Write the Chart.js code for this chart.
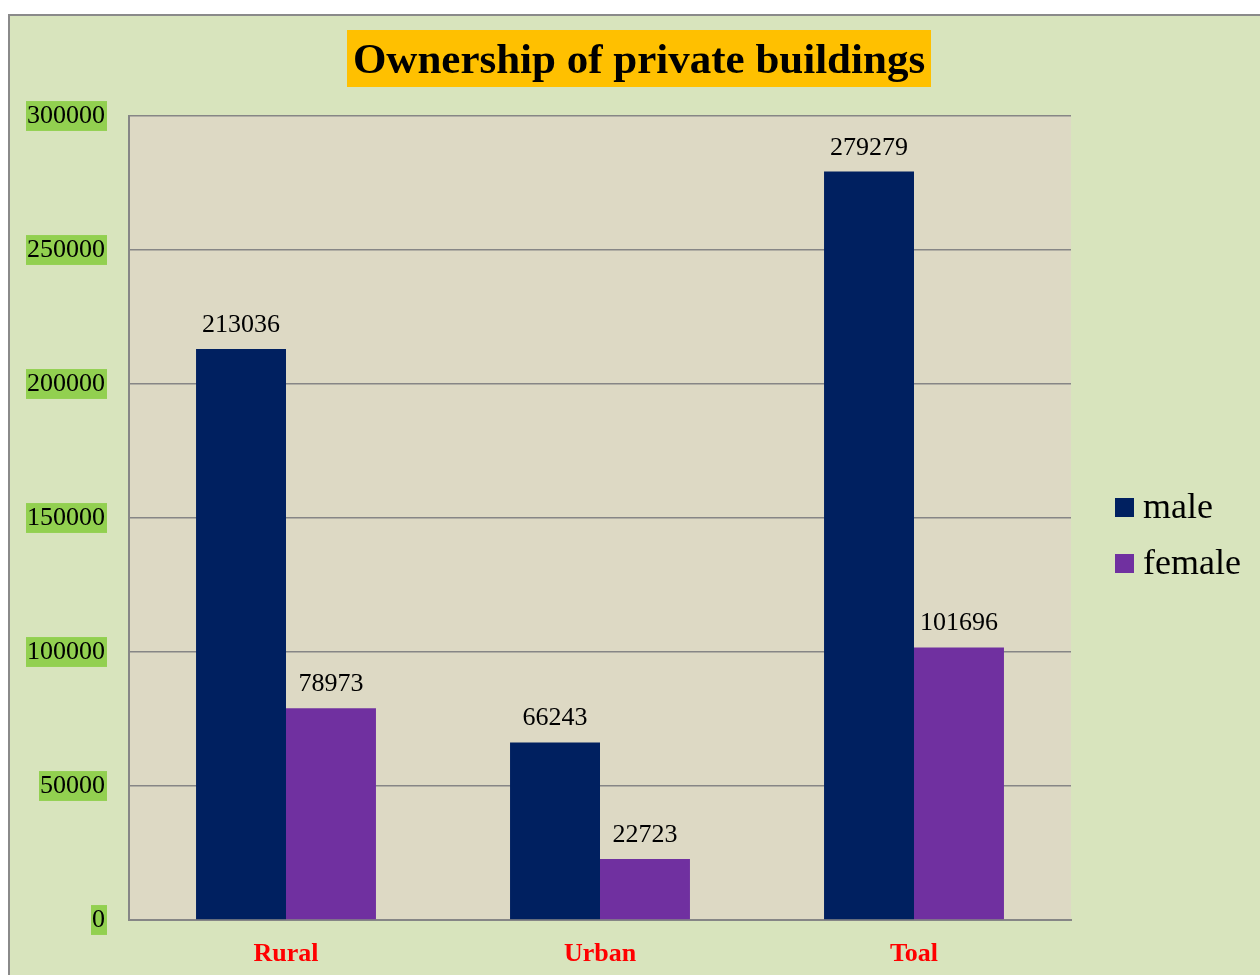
<!DOCTYPE html>
<html>
<head>
<meta charset="utf-8">
<script src="https://cdn.jsdelivr.net/npm/chart.js@4/dist/chart.umd.min.js"></script>
<style>
  html, body { margin: 0; padding: 0; background: #fff; }
  #wrap { position: relative; width: 1260px; height: 975px; }
</style>
</head>
<body>
<div id="wrap"><canvas id="buildings" width="1260" height="975"></canvas></div>
<script>
const categories = ['Rural', 'Urban', 'Toal'];
const maleValues = [213036, 66243, 279279];
const femaleValues = [78973, 22723, 101696];
const seriesNames = ['male', 'female'];
const yTicks = [0, 50000, 100000, 150000, 200000, 250000, 300000];

const SERIF = '"Liberation Serif", "DejaVu Serif", serif';

// frame, plot area background and the title box
const backgroundPlugin = {
  id: 'frameBg',
  beforeDraw(chart) {
    const { ctx, chartArea } = chart;
    ctx.save();
    ctx.fillStyle = '#ffffff';
    ctx.fillRect(0, 0, chart.width, chart.height);
    ctx.fillStyle = '#D8E4BD';
    ctx.fillRect(9, 15, chart.width - 9, chart.height - 15);
    ctx.strokeStyle = '#8a8a8a';
    ctx.lineWidth = 2;
    ctx.beginPath();
    ctx.moveTo(9, chart.height);
    ctx.lineTo(9, 15);
    ctx.lineTo(chart.width, 15);
    ctx.stroke();
    ctx.fillStyle = '#DDD9C4';
    ctx.fillRect(chartArea.left, chartArea.top, chartArea.right - chartArea.left, chartArea.bottom - chartArea.top);
    ctx.restore();
  },
  afterDraw(chart) {
    const { ctx } = chart;
    ctx.save();
    ctx.fillStyle = '#FFC000';
    ctx.fillRect(347, 30, 584, 57);
    ctx.fillStyle = '#000';
    ctx.font = 'bold 43px ' + SERIF;
    ctx.textAlign = 'center';
    ctx.textBaseline = 'middle';
    ctx.fillText('Ownership of private buildings', 639, 62);

    // legend
    ctx.font = '36px ' + SERIF;
    ctx.textAlign = 'left';
    chart.data.datasets.forEach((ds, i) => {
      const y = 507 + i * 56;
      ctx.fillStyle = ds.backgroundColor;
      ctx.fillRect(1115, y - 9, 19, 19);
      ctx.fillStyle = '#000';
      ctx.fillText(ds.label, 1143, y + 2);
    });
    ctx.restore();
  }
};

// value labels above each bar
const valueLabels = {
  id: 'valueLabels',
  afterDatasetsDraw(chart) {
    const { ctx } = chart;
    ctx.save();
    ctx.font = '26px ' + SERIF;
    ctx.fillStyle = '#000';
    ctx.textAlign = 'center';
    ctx.textBaseline = 'alphabetic';
    chart.data.datasets.forEach((ds, i) => {
      chart.getDatasetMeta(i).data.forEach((bar, j) => {
        ctx.fillText(String(ds.data[j]), bar.x, bar.y - 17);
      });
    });
    ctx.restore();
  }
};

new Chart(document.getElementById('buildings'), {
  type: 'bar',
  data: {
    labels: categories,
    datasets: [
      { label: seriesNames[0], data: maleValues, backgroundColor: '#002060' },
      { label: seriesNames[1], data: femaleValues, backgroundColor: '#7030A0' }
    ]
  },
  options: {
    responsive: false,
    animation: false,
    devicePixelRatio: 1,
    layout: { padding: { top: 116, right: 189, bottom: 0, left: 0 } },
    datasets: { bar: { categoryPercentage: 0.573, barPercentage: 1.0 } },
    plugins: {
      legend: { display: false },
      title: { display: false },
      tooltip: { enabled: false }
    },
    scales: {
      x: {
        afterFit(scale) { scale.height = 55; },
        grid: { display: false },
        border: { display: true, color: '#868686', width: 2 },
        ticks: {
          color: '#FF0000',
          padding: 11,
          font: { family: SERIF, size: 26, weight: 'bold' }
        }
      },
      y: {
        min: 0,
        max: 300000,
        afterFit(scale) { scale.width = 129; },
        afterBuildTicks(scale) { scale.ticks = yTicks.map(v => ({ value: v })); },
        grid: { color: '#868686', lineWidth: 1.5, drawTicks: false },
        border: { display: true, color: '#868686', width: 2 },
        ticks: {
          color: '#000',
          padding: 24,
          callback: v => String(v),
          font: { family: SERIF, size: 26, lineHeight: 1.15 },
          showLabelBackdrop: true,
          backdropColor: '#92D050',
          backdropPadding: { top: 0, bottom: 0, left: 1, right: 2 }
        }
      }
    }
  },
  plugins: [backgroundPlugin, valueLabels]
});
</script>
</body>
</html>
